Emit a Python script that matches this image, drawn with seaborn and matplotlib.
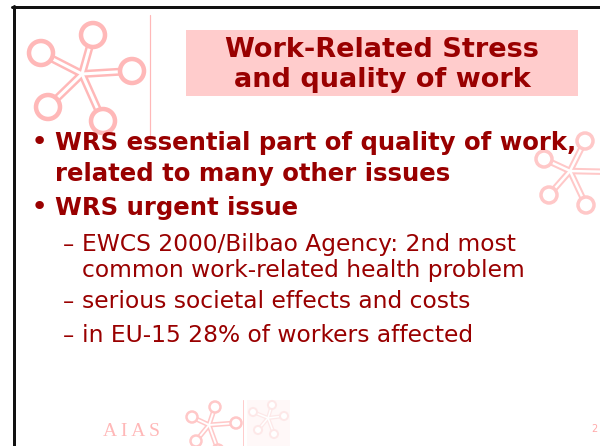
"""
Slide: Work-Related Stress and quality of work
"""
import matplotlib
matplotlib.use("Agg")
import matplotlib.pyplot as plt
import matplotlib.patches as mpatches
import seaborn as sns

# slide content
title_lines = ["Work-Related Stress", "and quality of work"]
main_points = [
    ["WRS essential part of quality of work,", "related to many other issues"],
    ["WRS urgent issue"],
]
sub_points = [
    ["EWCS 2000/Bilbao Agency: 2nd most", "common work-related health problem"],
    ["serious societal effects and costs"],
    ["in EU-15 28% of workers affected"],
]
footer_text = "A I A S"
page_number = "2"

DARK_RED = "#990000"
PINK = "#ffb8b8"
BOX_PINK = "#ffcccc"

sns.set_theme(style="white")
plt.rcParams["font.family"] = ["DejaVu Sans"]

PX = 0.72  # points per pixel at dpi 100


def draw_logo(ax, hub, ends, radius, ring_px, arm_px, color, z=1):
    """Asterisk logo: hollow arms ending in rings"""
    for ex, ey in ends:
        ax.plot([hub[0], ex], [hub[1], ey], color=color, lw=arm_px * PX,
                solid_capstyle="round", zorder=z)
    for ex, ey in ends:
        ax.plot([hub[0], ex], [hub[1], ey], color="white", lw=arm_px * 0.38 * PX,
                solid_capstyle="round", zorder=z + 0.1)
    for ex, ey in ends:
        ax.add_patch(mpatches.Circle((ex, ey), radius, facecolor="white",
                                     edgecolor=color, lw=ring_px * PX, zorder=z + 0.2))


fig = plt.figure(figsize=(6.0, 4.46), dpi=100)
ax = fig.add_axes([0, 0, 1, 1])
ax.set_xlim(0, 600)
ax.set_ylim(446, 0)
ax.axis("off")

# frame (left and top edges visible)
ax.plot([13.5, 13.5], [6, 446], color="#111111", lw=3 * PX, zorder=5)
ax.plot([12, 600], [6.5, 6.5], color="#111111", lw=3 * PX, zorder=5)

# logos
draw_logo(ax, (82, 74), [(93, 35), (132, 71), (103, 121), (48, 107), (41, 53)],
          12, 4.5, 8, PINK)
draw_logo(ax, (570, 171), [(544, 159), (549, 195), (586, 205), (585, 141), (615, 172)],
          8, 3.5, 6.5, "#ffc8c8")
ax.plot([150, 150], [15, 145], color=PINK, lw=1.2 * PX, zorder=1)

# title box
ax.add_patch(mpatches.Rectangle((186, 30), 392, 66, facecolor=BOX_PINK,
                                edgecolor="none", zorder=2))
for i, line in enumerate(title_lines):
    ax.text(382, 57 + 30 * i, line, ha="center", va="baseline", fontsize=19.5,
            fontweight="bold", color=DARK_RED, zorder=3)

# main bullets
main_base = [150, 215]
for base, lines in zip(main_base, main_points):
    ax.text(39, base, "\u2022", ha="center", va="baseline", fontsize=21,
            color=DARK_RED, zorder=3)
    for j, line in enumerate(lines):
        ax.text(55, base + 31 * j, line, ha="left", va="baseline", fontsize=17.6,
                fontweight="bold", color=DARK_RED, zorder=3)

# sub bullets
sub_base = [251, 308, 342]
for base, lines in zip(sub_base, sub_points):
    ax.text(69, base, "\u2013", ha="center", va="baseline", fontsize=16,
            color=DARK_RED, zorder=3)
    for j, line in enumerate(lines):
        ax.text(82, base + 26 * j, line, ha="left", va="baseline", fontsize=16.8,
                color=DARK_RED, zorder=3)

# footer
ax.text(103, 436, footer_text, ha="left", va="baseline", fontsize=14,
        family=["Liberation Serif", "DejaVu Serif"], color=PINK, zorder=3)
draw_logo(ax, (209, 425), [(215, 407), (192, 417), (236, 423), (196, 441), (218, 450)],
          5.5, 2.5, 5, "#ffc8c8")
ax.plot([243, 243], [400, 446], color="#ffcccc", lw=1 * PX, zorder=1)
ax.add_patch(mpatches.Rectangle((247, 400), 43, 46, facecolor="#fff8f8",
                                edgecolor="none", zorder=0.5))
draw_logo(ax, (268, 418), [(272, 405), (253, 412), (284, 416), (258, 430), (274, 434)],
          4, 2, 4, "#fde8e8")
ax.text(594, 432, page_number, ha="center", va="baseline", fontsize=7,
        color="#ffaaaa", zorder=3)

plt.savefig("out.png", dpi=100)
